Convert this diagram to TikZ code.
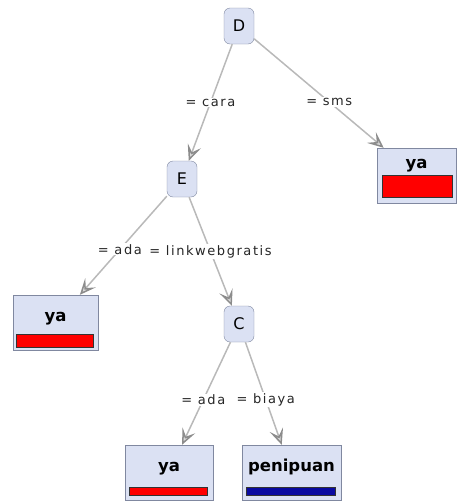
\documentclass[tikz,border=0pt]{standalone}
\usepackage{fontspec}
\setmainfont{DejaVu Sans}
\newfontfamily\edgefont[LetterSpace=12]{DejaVu Sans}
\usepackage{tikz}
\usetikzlibrary{arrows.meta,calc}

\definecolor{nodeblue}{RGB}{219,225,243}
\definecolor{nodeline}{RGB}{128,136,160}
\definecolor{edgegray}{RGB}{185,185,185}
\definecolor{barblue}{RGB}{10,10,160}

\begin{document}
\begin{tikzpicture}[x=1pt,y=-1pt,
inner/.style={draw=nodeline,fill=nodeblue,rounded corners=6pt,minimum width=30pt,minimum height=36pt,inner sep=0pt,font=\fontsize{16}{16}\selectfont},
leaf/.style={draw=nodeline,fill=nodeblue,inner sep=0pt,font=\fontsize{16.5}{16.5}\selectfont\bfseries},
edge/.style={draw=edgegray,line width=1.5pt,-{Stealth[length=16pt,width=14pt,inset=7pt,fill=edgegray!50,color=gray!90]}},
elabel/.style={fill=white,inner sep=1pt,text=black!85,font=\edgefont\fontsize{13}{13}\selectfont},
bar/.style={draw=black!80,line width=.8pt}]
\useasboundingbox (0,0) rectangle (457,501);
% inner nodes
\node[inner] (D) at (239,26) {D};
\node[inner] (E) at (182,179) {E};
\node[inner] (C) at (239,324) {C};
% leaves
\node[leaf,minimum width=79pt,text height=20pt,text depth=35pt] (yr) at (416.5,175.5) {ya};
\node[leaf,minimum width=85pt,text height=26pt,text depth=29pt] (yl) at (55.5,322.5) {ya};
\node[leaf,minimum width=88pt,text height=26pt,text depth=29pt] (yb) at (169,472.5) {ya};
\node[leaf,minimum width=99pt,text height=26pt,text depth=29pt] (pen) at (291.5,472.5) {penipuan};
\draw[bar,fill=red] ($(yr.south west)+(6,-6)$) rectangle ($(yr.south east)+(-4,-28)$);
\draw[bar,fill=red] ($(yl.south west)+(4,-3)$) rectangle ($(yl.south east)+(-5,-16)$);
\draw[bar,fill=red] ($(yb.south west)+(5,-5)$) rectangle ($(yb.south east)+(-6,-13)$);
\draw[bar,fill=barblue] ($(pen.south west)+(5,-5)$) rectangle ($(pen.south east)+(-6,-13)$);
% edges
\draw[edge] (D) -- node[elabel,pos=.5]{= cara} (E);
\draw[edge] (D) -- node[elabel,pos=.58]{= sms} (yr);
\draw[edge] (E) -- node[elabel,pos=.54]{= ada} (yl);
\draw[edge] (E) -- node[elabel]{= linkwebgratis} (C);
\draw[edge] (C) -- node[elabel,pos=.56]{= ada} (yb);
\draw[edge] (C) -- node[elabel,pos=.56]{= biaya} (pen);
\end{tikzpicture}
\end{document}
